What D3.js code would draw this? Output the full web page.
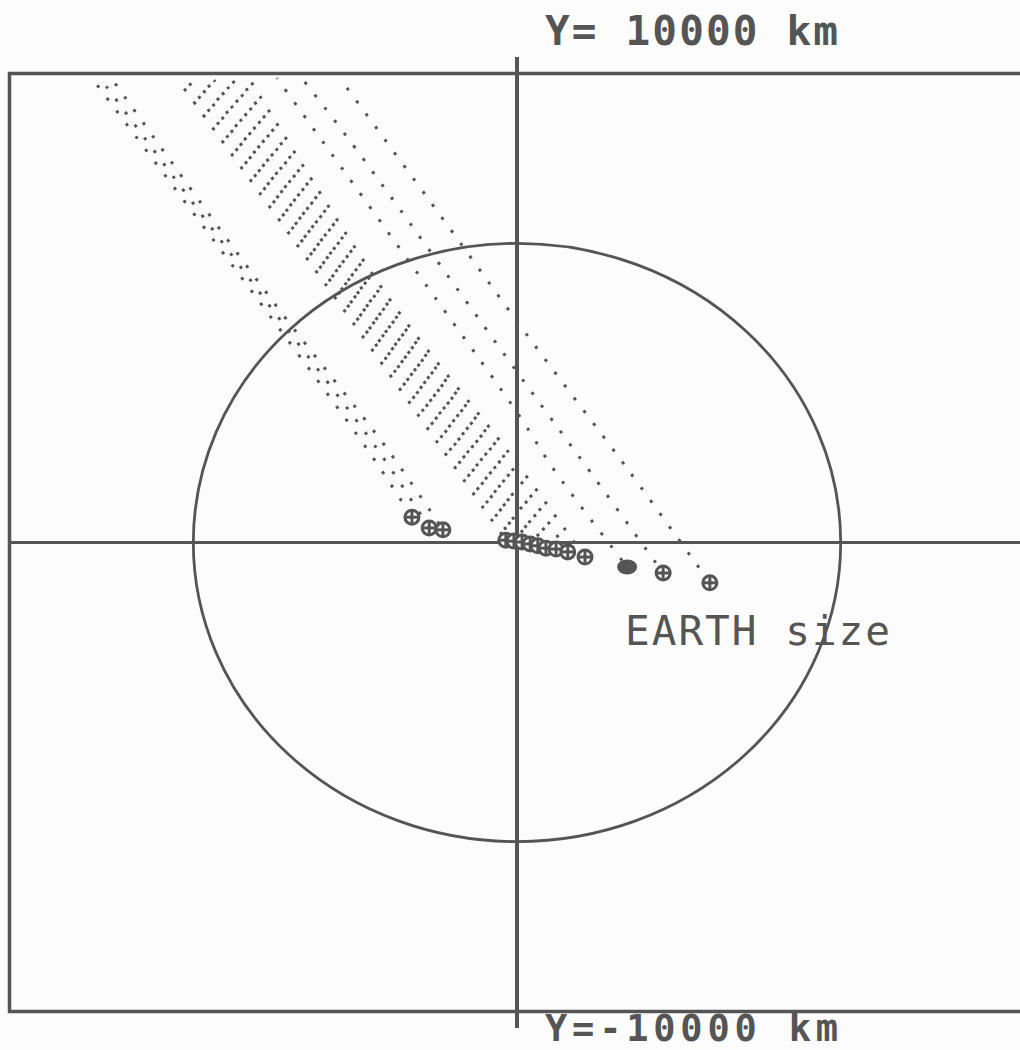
<!DOCTYPE html>
<html>
<head>
<meta charset="utf-8">
<script src="https://cdn.jsdelivr.net/npm/d3@7"></script>
<style>
html, body { margin:0; padding:0; background:#fcfcfc; }
svg { display:block; }
</style>
</head>
<body>
<svg id="chart" width="1020" height="1050"></svg>
<script>
var leftX	= [[-8270,-5100,-2940,-2070],[-8200,-4960,-2740,-1730],[-7940,-4830,-2540,-1460]];
var leftY	= [[9750,5170,1970,540],[9880,5170,1970,310],[9820,5170,1970,270]];

var midX	= [[-6680,-3550,-1460,-220],[-6500,-3410,-1300,-60],[-6320,-3290,-1140,100],
		   [-6150,-3150,-990,260],[-5970,-3030,-830,410],[-5790,-2900,-670,570],
		   [-5610,-2760,-510,770],[-5440,-2620,-350,1000],[-5260,-2500,-200,1340]];
var midY	= [[9860,5170,1970,50],[9860,5170,1970,30],[9860,5170,1970,10],
		   [9860,5170,1970,-30],[9860,5170,1970,-70],[9860,5170,1970,-120],
		   [9860,5170,1970,-140],[9860,5170,1970,-200],[9860,5170,1970,-310]];

var rightX	= [[-3490,-1400,200,2190,3800],[-4240,-3330,200,1460,2880],[-4730,-1580,60,730,2170]];
var rightY	= [[9900,6810,4420,1550,-860],[9900,8620,3340,1480,-650],[9900,5170,2680,1550,-520]];
var rightMark	= ["plus","plus","filled"];

var earthRadius	= 6378;
var yLabels	= ["Y= 10000 km","Y=-10000 km"];
var earthLabel	= "EARTH size";

var	ink	= "#555555",
	paper	= "#fcfcfc",
	svg	= d3.select("#chart"),
	x	= d3.scaleLinear().domain([-10000,10000]).range([9.5,1024.5]),
	y	= d3.scaleLinear().domain([10000,-10000]).range([73.5,1011.5]);

function zip(xs, ys) { return xs.map(function(v,i){ return [v, ys[i]]; }); }
var tracks = [];
leftX.forEach(function(t,i){ tracks.push({pts: zip(t,leftY[i]), mark:"plus"}); });
midX.forEach(function(t,i){ tracks.push({pts: zip(t,midY[i]), mark:"plus"}); });
rightX.forEach(function(t,i){ tracks.push({pts: zip(t,rightY[i]), mark:rightMark[i]}); });

svg.append("rect").attr("width",1020).attr("height",1050).attr("fill",paper);

svg.append("clipPath").attr("id","frameClip")
	.append("rect")
	.attr("x",x(-10000)).attr("y",y(10000))
	.attr("width",x(10000)-x(-10000)).attr("height",y(-10000)-y(10000));

// frame + axes
svg.append("rect")
	.attr("x",x(-10000)).attr("y",y(10000))
	.attr("width",x(10000)-x(-10000)).attr("height",y(-10000)-y(10000))
	.attr("fill","none").attr("stroke",ink).attr("stroke-width",3.5);
svg.append("line")
	.attr("x1",x(0)).attr("x2",x(0)).attr("y1",y(10350)).attr("y2",y(-10350))
	.attr("stroke",ink).attr("stroke-width",4);
svg.append("line")
	.attr("x1",x(-10000)).attr("x2",x(10000)).attr("y1",y(0)).attr("y2",y(0))
	.attr("stroke",ink).attr("stroke-width",3);

// earth outline
svg.append("ellipse")
	.attr("cx",x(0)).attr("cy",y(0))
	.attr("rx",x(earthRadius)-x(0)).attr("ry",y(0)-y(earthRadius))
	.attr("fill","none").attr("stroke",ink).attr("stroke-width",2.8);

var line = d3.line()
	.x(function(d){ return x(d[0]); })
	.y(function(d){ return y(d[1]); })
	.curve(d3.curveCatmullRom.alpha(0.5));

var g = svg.append("g").attr("clip-path","url(#frameClip)");
g.selectAll("path.track").data(tracks).enter().append("path")
	.attr("class","track")
	.attr("d",function(d){ return line(d.pts); })
	.attr("fill","none")
	.attr("stroke",ink)
	.attr("stroke-width",3)
	.attr("stroke-dasharray","3,13")
	.attr("stroke-dashoffset",function(d,i){ return (i*7)%16; });

// end markers
var m = g.selectAll("g.mark").data(tracks).enter().append("g")
	.attr("class","mark")
	.attr("transform",function(d){ var p = d.pts[d.pts.length-1]; return "translate("+x(p[0])+","+y(p[1])+")"; });
m.filter(function(d){ return d.mark=="plus"; }).each(function(){
	var s = d3.select(this);
	s.append("circle").attr("r",7).attr("fill",paper).attr("stroke",ink).attr("stroke-width",3);
	s.append("line").attr("x1",-7).attr("x2",7).attr("stroke",ink).attr("stroke-width",3);
	s.append("line").attr("y1",-7).attr("y2",7).attr("stroke",ink).attr("stroke-width",3);
});
m.filter(function(d){ return d.mark=="filled"; })
	.append("ellipse").attr("rx",10).attr("ry",7.5).attr("fill",ink);

// labels
function label(t, px, py, size, bold, len) {
	svg.append("text")
		.attr("x",px).attr("y",py)
		.attr("textLength",len).attr("lengthAdjust","spacing")
		.style("font-family","'DejaVu Sans Mono', monospace")
		.style("font-weight",bold?"bold":"normal")
		.style("font-size",size+"px")
		.attr("fill",ink).text(t);
}
label(yLabels[0], x(0)+28, 45, 41, true, 293);
label(yLabels[1], x(0)+28, 1041, 37, true, 293);
label(earthLabel, 625, 645, 41, false, 265);
</script>
</body>
</html>
